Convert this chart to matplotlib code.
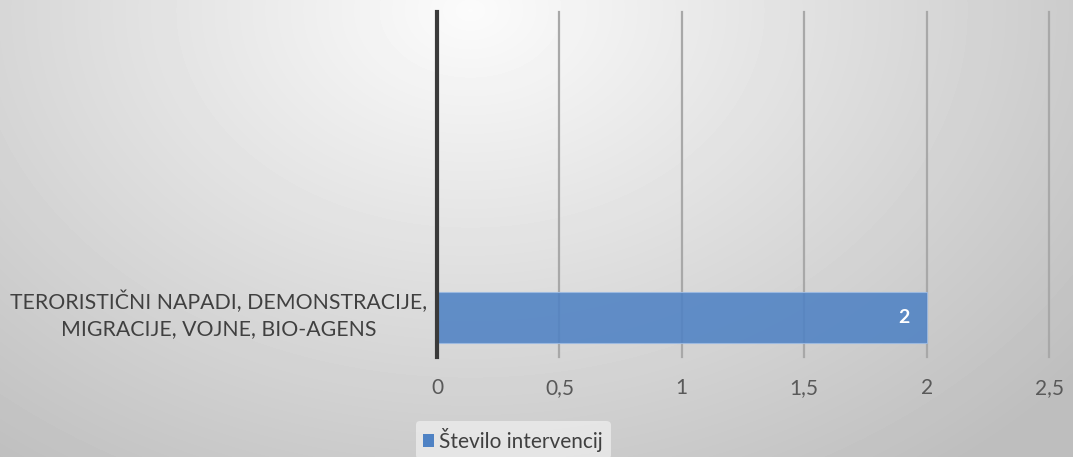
import numpy as np
import matplotlib.pyplot as plt
from matplotlib.patches import Patch
from matplotlib.transforms import ScaledTranslation

categories = ["TERORISTIČNI NAPADI, DEMONSTRACIJE,\nMIGRACIJE, VOJNE, BIO-AGENS"]
values = [2]
series_name = "Število intervencij"
xticks = [0, 0.5, 1, 1.5, 2, 2.5]
xtick_labels = ["0", "0,5", "1", "1,5", "2", "2,5"]

plt.rcParams["font.family"] = ["Lato", "DejaVu Sans"]

W, H = 1073, 457
fig = plt.figure(figsize=(W / 100, H / 100), dpi=100)

# radial gradient background (light spot near the top, grey edges)
bg = fig.add_axes([0, 0, 1, 1])
yy, xx = np.mgrid[0:H, 0:W]
d = np.sqrt(((xx - 470) / 650.0) ** 2 + ((yy - 10) / 480.0) ** 2)
shade = 0.985 - 0.20 * np.clip(d, 0, 1.2)
bg.imshow(shade, cmap="gray", vmin=0, vmax=1, aspect="auto", extent=[0, W, H, 0])
bg.axis("off")

ax = fig.add_axes([437 / W, 1 - 357 / H, (1049 - 437) / W, (357 - 12) / H])
ax.patch.set_alpha(0)

for t in xticks[1:]:
    ax.axvline(t, color="#a8a8a8", linewidth=1.6, zorder=1, clip_on=False)

ax.barh([0], values, height=0.5, color="#4f82c4", alpha=0.88,
        edgecolor="#9dbbe3", linewidth=0.8, zorder=3)
for i, v in enumerate(values):
    ax.text(v - 0.07, i, str(v), color="white", fontsize=14, fontweight="bold",
            ha="right", va="center", zorder=4)

ax.axvline(0, color="#3a3a3a", linewidth=3, zorder=5, clip_on=False)

ax.set_xlim(0, 2.5)
ax.set_ylim(-0.392, 2.99)
ax.set_xticks(xticks)
ax.set_xticklabels(xtick_labels, fontsize=15, color="#595959")
ax.set_yticks([0])
ax.set_yticklabels(categories, fontsize=15.3, color="#404040", ha="center", linespacing=1.38)
ax.tick_params(axis="y", length=0, pad=157)
ax.tick_params(axis="x", length=0, pad=15)
# nudge the category label up a little
for lab in ax.get_yticklabels():
    lab.set_transform(lab.get_transform() + ScaledTranslation(0, 0.07, fig.dpi_scale_trans))

for s in ax.spines.values():
    s.set_visible(False)

leg = fig.legend(handles=[Patch(facecolor="#4f82c4", label=series_name)],
                 loc="center", bbox_to_anchor=(513 / W, 1 - 440 / H),
                 fontsize=15, frameon=True, handlelength=0.55, handleheight=0.55,
                 handletextpad=0.25, borderpad=0.35)
leg.get_frame().set_facecolor("#f0f0f0")
leg.get_frame().set_edgecolor("none")
leg.get_frame().set_alpha(0.7)
for t in leg.get_texts():
    t.set_color("#404040")

fig.savefig("out.png", dpi=100)
